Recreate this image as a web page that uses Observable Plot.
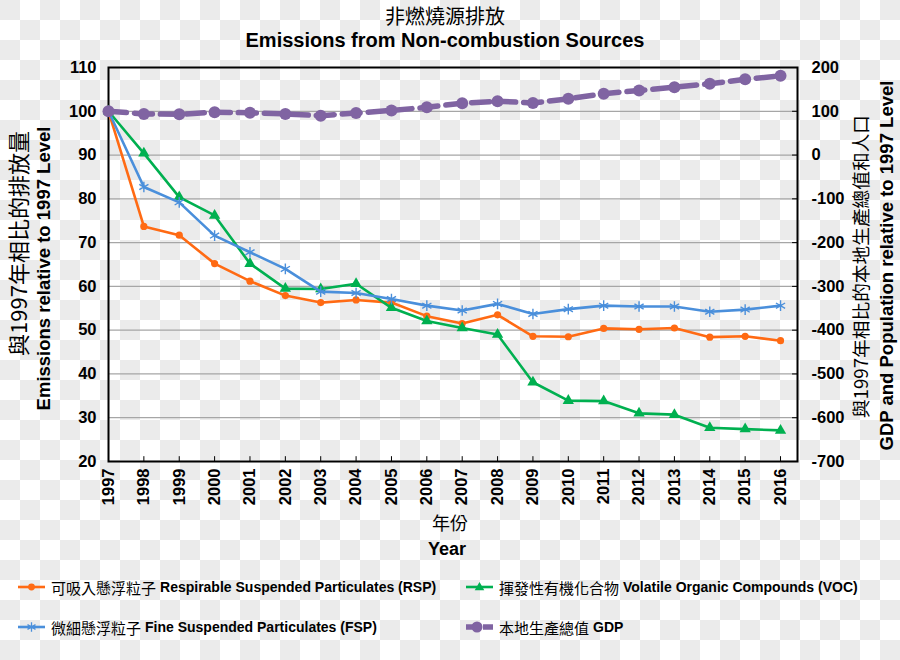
<!DOCTYPE html>
<html>
<head>
<meta charset="utf-8">
<script src="https://cdn.jsdelivr.net/npm/d3@7"></script>
<script src="https://cdn.jsdelivr.net/npm/@observablehq/plot@0.6"></script>
<style>
  html, body { margin: 0; padding: 0; }
  body {
    width: 900px; height: 660px; overflow: hidden; position: relative;
    background-color: #ffffff;
    background-image: conic-gradient(#ffffff 0 25%, #ebebeb 0 50%, #ffffff 0 75%, #ebebeb 0);
    background-size: 40px 40px;
    font-family: "Liberation Sans", Arial, "Noto Sans CJK TC", sans-serif;
    color: #000;
  }
  #title { position: relative; height: 55px; width: 890px; text-align: center; }
  #title .zh { position: absolute; top: 5px; left: 0; width: 100%; font-size: 20px; line-height: 22px; font-family: "Noto Sans CJK TC", sans-serif; }
  #title .en { position: absolute; top: 29px; left: 0; width: 100%; font-size: 20px; line-height: 22px; font-weight: bold; }
  #chart svg { display: block; }
  .leg { position: absolute; display: flex; align-items: center; height: 20px; white-space: nowrap; }
  .leg svg { display: block; margin-right: 5px; }
  .leg .zh { font-family: "Noto Sans CJK TC", sans-serif; font-size: 15px; }
  .leg .en { font-family: "Liberation Sans", Arial, sans-serif; font-weight: bold; font-size: 14px; margin-left: 4px; }
</style>
</head>
<body>
<div id="title">
  <div class="zh">非燃燒源排放</div>
  <div class="en">Emissions from Non-combustion Sources</div>
</div>
<div id="chart"></div>
<div id="legend"></div>
<script>
// ---------- data ----------
const years = [1997, 1998, 1999, 2000, 2001, 2002, 2003, 2004, 2005, 2006, 2007, 2008, 2009, 2010, 2011, 2012, 2013, 2014, 2015, 2016];
const rsp = [100, 73.7, 71.7, 65.2, 61.2, 57.9, 56.3, 56.9, 56.3, 53.2, 51.5, 53.5, 48.6, 48.5, 50.4, 50.2, 50.5, 48.4, 48.6, 47.6];
const voc = [100, 90.4, 80.4, 76.2, 65.2, 59.5, 59.4, 60.6, 55.1, 52.1, 50.5, 49.0, 38.1, 33.9, 33.8, 31.0, 30.7, 27.7, 27.4, 27.1];
const fsp = [100, 82.7, 79.2, 71.6, 67.8, 64.0, 58.8, 58.5, 57.1, 55.6, 54.5, 56.0, 53.7, 54.8, 55.6, 55.4, 55.4, 54.2, 54.7, 55.6];
const gdp = [100, 94, 93, 98, 96.5, 94, 90, 96, 102, 109, 118.5, 123, 119, 128.5, 140, 147.5, 155, 162.7, 173, 181];
const leftTicks = [20, 30, 40, 50, 60, 70, 80, 90, 100, 110];
const rightTicks = [-700, -600, -500, -400, -300, -200, -100, 0, 100, 200];
const gridTicks = [30, 40, 50, 60, 70, 80, 90, 100];

const seriesNames = {
  rsp: ["可吸入懸浮粒子", "Respirable Suspended Particulates (RSP)"],
  voc: ["揮發性有機化合物", "Volatile Organic Compounds (VOC)"],
  fsp: ["微細懸浮粒子", "Fine Suspended Particulates (FSP)"],
  gdp: ["本地生產總值", "GDP"]
};
const colors = { rsp: "#ff6a13", voc: "#00b050", fsp: "#4a8fdb", gdp: "#8064a2" };

const titleLeftZh = "與1997年相比的排放量";
const titleLeftEn = "Emissions relative to 1997 Level";
const titleRightZh = "與1997年相比的本地生產總值和人口";
const titleRightEn = "GDP and Population relative to 1997 Level";
const xTitleZh = "年份";
const xTitleEn = "Year";

// ---------- helpers ----------
// right axis (GDP) maps linearly onto the left axis: 200 <-> 110, -700 <-> 20
const toLeft = r => (r + 900) / 10;
const rows = (vals) => years.map((year, i) => ({ year, value: vals[i] }));
const xMax = 2016.48;
const CJK = "'Noto Sans CJK TC', sans-serif";
const LAT = "'Liberation Sans', Arial, sans-serif";

const rspRows = rows(rsp), vocRows = rows(voc), fspRows = rows(fsp);
const gdpRows = rows(gdp).map(d => ({ year: d.year, value: toLeft(d.value) }));

const title = (txt, opts) => Plot.text([txt], { text: d => d, textAnchor: "middle", lineAnchor: "middle", ...opts });

const chart = Plot.plot({
  width: 900, height: 510,
  marginTop: 12, marginLeft: 108, marginRight: 103, marginBottom: 104,
  style: { background: "transparent", fontFamily: LAT, color: "#000", overflow: "visible" },
  x: { type: "linear", domain: [1997, xMax] },
  y: { domain: [20, 110] },
  marks: [
    Plot.ruleY(gridTicks, { stroke: "#a6a6a6", strokeWidth: 1.2 }),
    Plot.axisX({ ticks: years, tickFormat: d => String(d), tickSize: 0, tickPadding: 7, tickRotate: -90, fontSize: 16.5, fontWeight: "bold", label: null }),
    Plot.axisY({ anchor: "left", ticks: leftTicks, tickFormat: d => String(d), tickSize: 0, tickPadding: 12, fontSize: 16.5, fontWeight: "bold", label: null }),
    Plot.axisY({ anchor: "right", ticks: rightTicks.map(toLeft), tickFormat: v => String(Math.round(v * 10 - 900)), tickSize: 0, tickPadding: 14, fontSize: 16.5, fontWeight: "bold", label: null }),
    Plot.ruleX(years, { x: d => d, y1: 20, y2: 21.1, stroke: "#000", strokeWidth: 1 }),
    Plot.ruleY(leftTicks, { y: d => d, x1: xMax - 0.14, x2: xMax, stroke: "#000", strokeWidth: 1 }),
    Plot.frame({ stroke: "#000", strokeWidth: 2 }),
    // series
    Plot.line(rspRows, { x: "year", y: "value", stroke: colors.rsp, strokeWidth: 2.6 }),
    Plot.dot(rspRows, { x: "year", y: "value", fill: colors.rsp, r: 3.6, symbol: "circle" }),
    Plot.line(vocRows, { x: "year", y: "value", stroke: colors.voc, strokeWidth: 2.6 }),
    Plot.dot(vocRows, { x: "year", y: "value", fill: colors.voc, r: 4.2, symbol: "triangle" }),
    Plot.line(fspRows, { x: "year", y: "value", stroke: colors.fsp, strokeWidth: 2.6 }),
    Plot.dot(fspRows, { x: "year", y: "value", stroke: colors.fsp, fill: "none", r: 5, strokeWidth: 1.4, symbol: "asterisk" }),
    Plot.line(gdpRows, { x: "year", y: "value", stroke: colors.gdp, strokeWidth: 5.5, strokeDasharray: "18,8" }),
    Plot.dot(gdpRows, { x: "year", y: "value", fill: colors.gdp, r: 6, symbol: "circle" }),
    // axis titles
    title(titleLeftZh, { frameAnchor: "left", rotate: -90, dx: -89, dy: -21, fontSize: 22, fontFamily: CJK }),
    title(titleLeftEn, { frameAnchor: "left", rotate: -90, dx: -64, dy: 4, fontSize: 18.5, fontWeight: "bold", fontFamily: LAT }),
    title(titleRightZh, { frameAnchor: "right", rotate: -90, dx: 65, dy: 2, fontSize: 18.7, fontFamily: CJK }),
    title(titleRightEn, { frameAnchor: "right", rotate: -90, dx: 90, dy: 1, fontSize: 18.5, fontWeight: "bold", fontFamily: LAT }),
    title(xTitleZh, { frameAnchor: "bottom", dx: -3, dy: 63, fontSize: 18, fontFamily: CJK }),
    title(xTitleEn, { frameAnchor: "bottom", dx: -6, dy: 88, fontSize: 18, fontWeight: "bold", fontFamily: LAT })
  ]
});
document.getElementById("chart").appendChild(chart);

// ---------- legend ----------
function swatch(key) {
  const c = colors[key];
  const s = d3.create("svg").attr("width", 29).attr("height", 14);
  if (key === "gdp") {
    s.append("line").attr("x1", 1).attr("x2", 28).attr("y1", 7).attr("y2", 7)
      .attr("stroke", c).attr("stroke-width", 5.5).attr("stroke-dasharray", "14,3");
    s.append("circle").attr("cx", 12).attr("cy", 7).attr("r", 5.5).attr("fill", c);
  } else {
    s.append("line").attr("x1", 1).attr("x2", 28).attr("y1", 7).attr("y2", 7)
      .attr("stroke", c).attr("stroke-width", 2.6);
    if (key === "rsp") s.append("circle").attr("cx", 14.5).attr("cy", 7).attr("r", 3.4).attr("fill", c);
    if (key === "voc") s.append("path").attr("d", d3.symbol(d3.symbolTriangle, 40)()).attr("transform", "translate(14.5,7.5)").attr("fill", c);
    if (key === "fsp") s.append("path").attr("d", d3.symbol(d3.symbolAsterisk, 60)()).attr("transform", "translate(14.5,7)").attr("stroke", c).attr("stroke-width", 1.3).attr("fill", "none");
  }
  return s.node();
}
const legendPos = [["rsp", 17, 577], ["voc", 465, 577], ["fsp", 17, 617], ["gdp", 465, 617]];
const legend = document.getElementById("legend");
for (const [key, left, top] of legendPos) {
  const item = document.createElement("div");
  item.className = "leg";
  item.style.left = left + "px";
  item.style.top = top + "px";
  item.appendChild(swatch(key));
  const zh = document.createElement("span"); zh.className = "zh"; zh.textContent = seriesNames[key][0];
  const en = document.createElement("span"); en.className = "en"; en.textContent = seriesNames[key][1];
  item.appendChild(zh); item.appendChild(en);
  legend.appendChild(item);
}
</script>
</body>
</html>
